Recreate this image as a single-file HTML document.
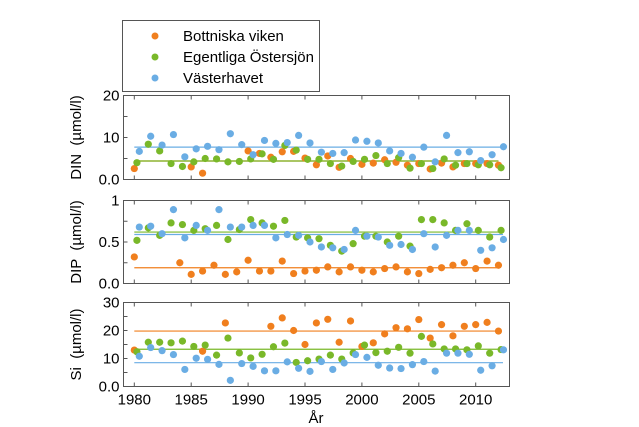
<!DOCTYPE html>
<html><head><meta charset="utf-8"><style>
html,body{margin:0;padding:0;background:#fff;}
svg{display:block;font-family:"Liberation Sans",Arial,sans-serif;}
text{white-space:pre;}
</style></head><body>
<svg id="chart" width="639" height="427" viewBox="0 0 639 427">
  <g>
    <rect x="122.5" y="20.5" width="197" height="71" fill="#fff" stroke="#555" stroke-width="1"/>
    <circle cx="155" cy="36" r="3.5" fill="#f07f1e"/>
    <text x="183" y="41" font-size="15">Bottniska viken</text>
    <circle cx="155" cy="57" r="3.5" fill="#79b829"/>
    <text x="183" y="62" font-size="15">Egentliga Östersjön</text>
    <circle cx="155" cy="78" r="3.5" fill="#6aade4"/>
    <text x="183" y="83" font-size="15">Västerhavet</text>
  </g>
  <g id="panels"></g>
  <text x="316" y="423" font-size="15" text-anchor="middle">År</text>
</svg>
<script>
const years = [1980,1981,1982,1983,1984,1985,1986,1987,1988,1989,1990,1991,1992,1993,1994,1995,1996,1997,1998,1999,2000,2001,2002,2003,2004,2005,2006,2007,2008,2009,2010,2011,2012];
const xTicks = [1980,1985,1990,1995,2000,2005,2010];
const seriesNames = ["bottniska","egentliga","vasterhavet"];
const dinOrange = [2.6,null,null,null,null,3.0,1.5,null,null,null,6.8,6.2,5.3,6.6,6.7,5.1,3.5,5.6,2.9,5.0,3.6,3.9,4.7,4.1,3.4,3.8,2.5,3.9,3.0,3.8,3.8,3.8,3.4];
const dinGreen = [4.0,8.4,6.8,3.8,3.1,4.2,5.0,4.9,4.2,4.3,4.9,6.1,4.8,8.1,7.0,4.8,4.8,3.8,3.2,4.3,4.8,5.7,3.8,5.2,2.7,3.8,2.6,4.9,3.4,3.8,3.5,3.5,2.8];
const dinBlue = [6.7,10.3,8.2,10.7,5.4,7.3,7.9,7.1,10.9,8.3,5.9,9.3,8.6,8.8,10.5,8.7,6.5,6.2,6.4,9.4,9.1,8.7,6.8,6.2,5.3,7.7,4.2,10.5,6.4,6.6,4.5,5.9,7.8];
const dinMeans = [4.4,4.4,7.7];
const dinTicks = ["0.0","10","20"];
const dipOrange = [0.32,null,null,null,0.25,0.11,0.15,0.22,0.11,0.14,0.28,0.15,0.15,0.27,0.12,0.15,0.16,0.20,0.14,0.20,0.16,0.14,0.18,0.20,0.14,0.12,0.17,0.19,0.22,0.25,0.18,0.27,0.22];
const dipGreen = [0.52,0.67,0.58,0.73,0.71,0.64,0.66,0.70,0.53,0.65,0.77,0.73,0.69,0.76,0.56,0.55,0.54,0.46,0.39,0.48,0.57,0.57,0.50,0.57,0.45,0.77,0.77,0.73,0.64,0.72,0.64,0.56,0.64];
const dipBlue = [0.68,0.69,0.60,0.89,0.55,0.70,0.64,0.89,0.68,0.68,0.70,0.70,0.55,0.59,0.58,0.50,0.44,0.43,0.41,0.64,0.57,0.56,0.46,0.47,0.41,0.60,0.44,0.58,0.64,0.64,0.40,0.43,0.53];
const dipMeans = [0.19,0.62,0.59];
const dipTicks = ["0.0","0.5","1"];
const siOrange = [13.0,null,null,null,null,null,12.6,null,22.7,null,null,null,21.5,24.5,20.0,15.0,22.7,24.0,15.8,23.4,14.3,15.6,18.8,21.0,20.6,23.9,17.3,22.1,18.1,21.5,22.1,22.9,19.8];
const siGreen = [12.4,15.8,15.8,15.6,16.2,14.3,14.8,11.2,17.3,12.0,10.2,11.5,14.2,15.5,8.6,9.2,9.8,11.2,9.8,12.0,14.8,12.1,12.6,14.0,11.9,17.9,15.2,13.4,13.4,13.1,14.5,11.9,13.2];
const siBlue = [10.8,13.9,12.8,11.4,6.1,10.1,9.7,7.9,2.2,8.2,7.2,5.6,5.6,8.8,6.5,5.4,8.9,6.1,8.4,11.4,10.4,7.6,6.6,6.4,7.8,8.9,5.5,11.9,11.9,11.5,5.8,7.4,13.1];
const siMeans = [19.8,13.3,8.5];
const siTicks = ["0.0","10","20","30"];

const colors = ["#f07f1e","#79b829","#6aade4"];
const offsets = [0,0.23,0.44];
const meanEnd = [2012,2012,2012.4];
const X0=123.5, X1=509.5;
const xs = y => 134.3 + (y-1980)*11.38;
const NS="http://www.w3.org/2000/svg";
const root=document.getElementById('panels');
function mk(tag,attrs,parent){const e=document.createElementNS(NS,tag);for(const k in attrs)e.setAttribute(k,attrs[k]);parent.appendChild(e);return e;}

const panels=[
 {name:"din",title:"DIN  (µmol/l)",top:95.5,bot:179.5,max:20,minor:5,ticks:dinTicks,data:[dinOrange,dinGreen,dinBlue],means:dinMeans,xlabels:false},
 {name:"dip",title:"DIP  (µmol/l)",top:200.5,bot:283.5,max:1,minor:0.25,ticks:dipTicks,data:[dipOrange,dipGreen,dipBlue],means:dipMeans,xlabels:false},
 {name:"si",title:"Si  (µmol/l)",top:302.5,bot:386.5,max:30,minor:5,ticks:siTicks,data:[siOrange,siGreen,siBlue],means:siMeans,xlabels:true}
];
panels.forEach(p=>{
  const g=mk('g',{},root);
  
  
  const ys=v=>p.bot-(v/p.max)*(p.bot-p.top);
  const fr=mk('rect',{x:X0,y:p.top,width:X1-X0,height:p.bot-p.top,fill:'none',stroke:'#555','stroke-width':1},g);
  
  
  for(let v=0;v<=p.max+1e-9;v+=p.minor){
    const t=mk('line',{x1:X0,x2:X0+4,y1:ys(v),y2:ys(v),stroke:'#555'},g);
    
    
  }
  p.ticks.forEach(s=>{
    const v=parseFloat(s);
    const t=mk('text',{x:X0-4,y:ys(v)+5,'font-size':15,'text-anchor':'end'},g);
    t.textContent=s;
    
    
  });
  xTicks.forEach(yr=>{
    const a=mk('line',{x1:xs(yr),x2:xs(yr),y1:p.bot,y2:p.bot-4,stroke:'#555'},g);
    
    
    const b=mk('line',{x1:xs(yr),x2:xs(yr),y1:p.top,y2:p.top+4,stroke:'#555'},g);
    
    
    if(p.xlabels){
      const t=mk('text',{x:xs(yr),y:p.bot+18,'font-size':15,'text-anchor':'middle'},g);
      t.textContent=yr;
      
      
    }
  });
  const cy=(p.top+p.bot)/2;
  const tt=mk('text',{x:0,y:0,'font-size':15,'text-anchor':'middle',transform:`translate(81,${cy}) rotate(-90)`},g);
  tt.textContent=p.title;
  
  
  p.data.forEach((arr,si)=>{
    const ml=mk('line',{x1:xs(1980),x2:xs(meanEnd[si]),y1:ys(p.means[si]),y2:ys(p.means[si]),stroke:colors[si],'stroke-width':1.2},g);
    
    
  });
  p.data.forEach((arr,si)=>{
    arr.forEach((v,i)=>{
      if(v===null)return;
      const c=mk('circle',{cx:xs(years[i]+offsets[si]),cy:ys(v),r:3.6,fill:colors[si]},g);
      
      
    });
  });
});
</script>
</body></html>
